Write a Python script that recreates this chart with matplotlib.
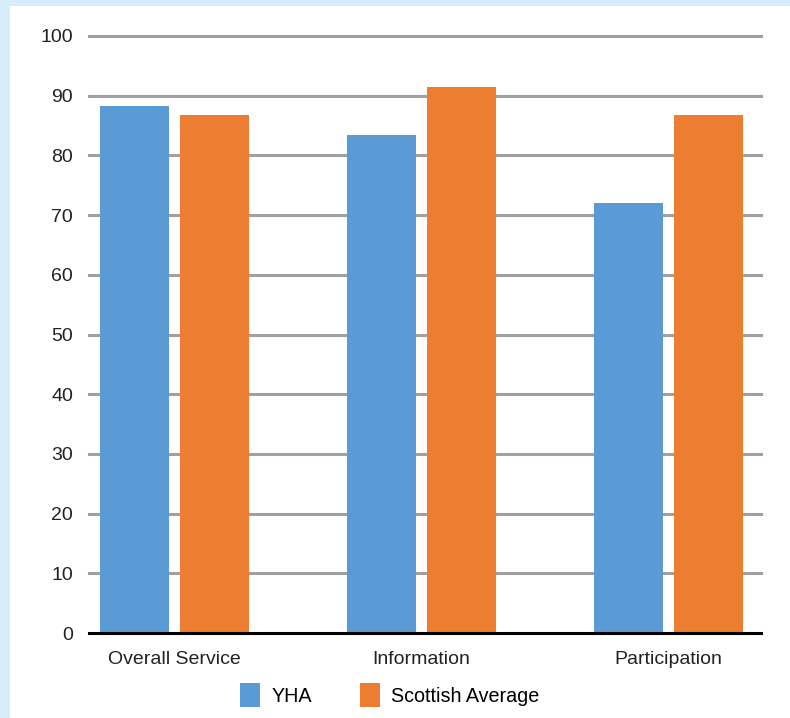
import matplotlib.pyplot as plt
import numpy as np
from matplotlib.patches import Rectangle

categories = ["Overall Service", "Information", "Participation"]
yha = [88.3, 83.4, 72.0]
scottish = [86.8, 91.5, 86.8]
y_ticks = [0, 10, 20, 30, 40, 50, 60, 70, 80, 90, 100]

BLUE = "#5B9BD5"
ORANGE = "#ED7D31"
FRAME = "#D5ECFA"

plt.rcParams["font.family"] = ["Liberation Sans", "DejaVu Sans"]

fig = plt.figure(figsize=(7.9, 7.18), dpi=100, facecolor=FRAME)
# white panel inside the light blue frame
fig.patches.append(Rectangle((10 / 790, 0), 1, 1 - 6 / 718, transform=fig.transFigure,
                             facecolor="white", edgecolor="none", zorder=-10))

ax = fig.add_axes([89 / 790, 1 - 633 / 718, (761 - 89) / 790, (633 - 36) / 718])
ax.set_facecolor("none")
ax.set_zorder(1)

x = np.arange(len(categories))
w = 0.28
ax.bar(x - 0.162, yha, w, color=BLUE, label="YHA", zorder=3)
ax.bar(x + 0.162, scottish, w, color=ORANGE, label="Scottish Average", zorder=3)

for t in y_ticks[1:]:
    ax.axhline(t, color="#a0a0a0", linewidth=2.2, zorder=1, clip_on=False)
ax.axhline(0, color="black", linewidth=2.2, zorder=4, clip_on=False)

ax.set_xlim(-0.346, 2.374)
ax.set_ylim(0, 100)
ax.set_yticks(y_ticks)
ax.set_xticks(x)
ax.set_xticklabels(categories)
ax.tick_params(length=0, labelsize=14, colors="#222222")
ax.tick_params(axis="y", pad=11.5)
ax.tick_params(axis="x", pad=13)
for s in ax.spines.values():
    s.set_visible(False)

fig.legend(loc="center", bbox_to_anchor=(390 / 790, 1 - 695 / 718), ncol=2, frameon=False,
           fontsize=14.2, handlelength=1.0, handleheight=1.5, columnspacing=2.4,
           handletextpad=0.6)

fig.savefig("out.png", dpi=100, facecolor=FRAME)
